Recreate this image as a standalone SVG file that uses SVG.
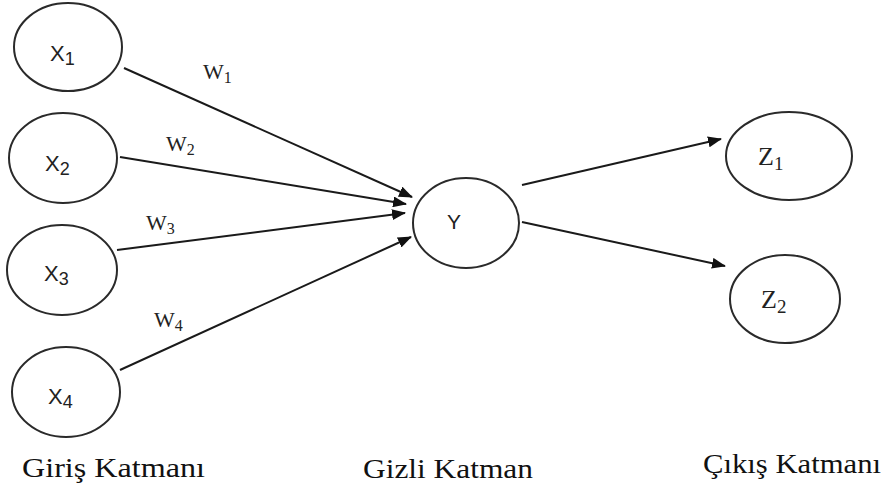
<svg xmlns="http://www.w3.org/2000/svg" width="895" height="491" viewBox="0 0 895 491">
<style>
.n{fill:#fff;stroke:#2a2a2a;stroke-width:2}
.c{stroke:#1a1a1a;stroke-width:2;fill:none;marker-end:url(#ah)}
</style>
<defs>
<marker id="ah" markerWidth="14" markerHeight="11" refX="13" refY="5.5" orient="auto" markerUnits="userSpaceOnUse" viewBox="0 0 14 11">
<path d="M0,0 L14,5.5 L0,11 z" fill="#111"/>
</marker>
</defs>
<rect width="895" height="491" fill="#fff"/>
<g id="connectors">
<line class="c" x1="124" y1="68" x2="412" y2="197"/>
<line class="c" x1="120" y1="157" x2="406" y2="204"/>
<line class="c" x1="117" y1="250" x2="405" y2="213"/>
<line class="c" x1="120" y1="370" x2="411" y2="237"/>
<line class="c" x1="522" y1="185" x2="721" y2="139"/>
<line class="c" x1="522" y1="222" x2="725" y2="266"/>
</g>
<g font-family="Liberation Sans, Arial, sans-serif" fill="#222">
<g id="x1"><ellipse class="n" cx="68" cy="47" rx="54" ry="44"/><text x="50" y="61" font-size="22">X<tspan font-size="18" dy="4">1</tspan></text></g>
<g id="x2"><ellipse class="n" cx="63" cy="158" rx="54" ry="45"/><text x="45" y="171" font-size="22">X<tspan font-size="18" dy="4">2</tspan></text></g>
<g id="x3"><ellipse class="n" cx="62" cy="270" rx="55" ry="45"/><text x="44" y="281" font-size="22">X<tspan font-size="18" dy="4">3</tspan></text></g>
<g id="x4"><ellipse class="n" cx="66" cy="392" rx="54" ry="45"/><text x="48" y="404" font-size="22">X<tspan font-size="18" dy="4">4</tspan></text></g>
<g id="y"><ellipse class="n" cx="466" cy="223" rx="53" ry="45"/><text x="447" y="229" font-size="21">Y</text></g>
</g>
<g font-family="Liberation Serif, DejaVu Serif, serif" fill="#222">
<g id="z1"><ellipse class="n" cx="789" cy="156" rx="63" ry="44"/><text x="758" y="165" font-size="26">Z<tspan font-size="19" dy="5">1</tspan></text></g>
<g id="z2"><ellipse class="n" cx="785" cy="299" rx="55" ry="44"/><text x="761" y="308" font-size="26">Z<tspan font-size="19" dy="5">2</tspan></text></g>
<g id="labels">
<text x="203" y="79" font-size="22">W<tspan font-size="16" dy="4">1</tspan></text>
<text x="166" y="151" font-size="22">W<tspan font-size="16" dy="4">2</tspan></text>
<text x="146" y="230" font-size="22">W<tspan font-size="16" dy="4">3</tspan></text>
<text x="154" y="327" font-size="22">W<tspan font-size="16" dy="4">4</tspan></text>
<text x="22" y="477" font-size="27" fill="#111" textLength="183" lengthAdjust="spacingAndGlyphs">Giriş Katmanı</text>
<text x="363" y="478" font-size="27" fill="#111" textLength="170" lengthAdjust="spacingAndGlyphs">Gizli Katman</text>
<text x="703" y="473" font-size="27" fill="#111" textLength="178" lengthAdjust="spacingAndGlyphs">Çıkış Katmanı</text>
</g>
</g>
</svg>
